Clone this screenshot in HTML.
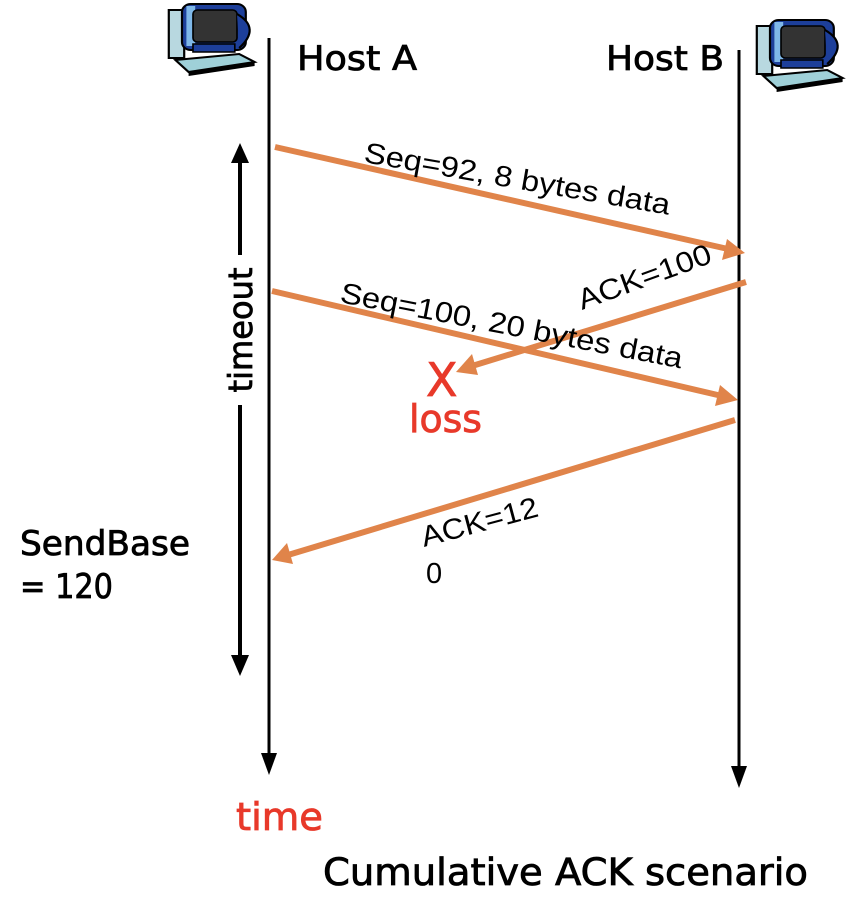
<!DOCTYPE html>
<html><head><meta charset="utf-8"><style>
html,body{margin:0;padding:0;background:#fff;}
svg{display:block;}
.h{font-family:"DejaVu Sans","Liberation Sans",sans-serif;stroke-width:0.8;}
.a{font-family:"Liberation Sans",Arial,sans-serif;}
</style></head><body>
<svg width="860" height="902" viewBox="0 0 860 902" xmlns="http://www.w3.org/2000/svg">
<defs>
<g id="pc">
  <rect x="8" y="8" width="14" height="48" fill="#b8d8e0" stroke="#000" stroke-width="2"/>
  <rect x="20" y="2" width="58" height="46" rx="8" fill="#1d3f9a" stroke="#000" stroke-width="2"/>
  <rect x="24" y="4" width="8" height="40" fill="#7fb8e8"/>
  <rect x="30" y="8" width="40" height="32" rx="4" fill="#333" stroke="#000" stroke-width="1.5"/>
  <path d="M70 12 Q92 26 72 46" fill="#1d3f9a" stroke="#000" stroke-width="2"/>
  <rect x="30" y="42" width="38" height="8" fill="#1d3f9a" stroke="#000" stroke-width="1.5"/>
  <path d="M14 58 L72 52 L86 60 L26 70 Z" fill="#9fd0d8" stroke="#000" stroke-width="2"/>
  <path d="M26 70 L86 60 L86 64 L26 74 Z" fill="#000"/>
</g>
</defs>

<use href="#pc" transform="translate(160,2) scale(1.1,1)"/>
<use href="#pc" transform="translate(748,18) scale(1.1,1)"/>

<line x1="269" y1="38" x2="269" y2="755" stroke="#000" stroke-width="3"/>
<polygon points="261,753 277,753 269,775" fill="#000"/>
<line x1="739" y1="50" x2="739" y2="768" stroke="#000" stroke-width="3"/>
<polygon points="731,766 747,766 739,788" fill="#000"/>

<line x1="240" y1="160" x2="240" y2="255" stroke="#000" stroke-width="4"/>
<polygon points="231,163 249,163 240,143" fill="#000"/>
<line x1="240" y1="405" x2="240" y2="658" stroke="#000" stroke-width="4"/>
<polygon points="231,655 249,655 240,676" fill="#000"/>
<text class="h" x="0" y="0" font-size="33" text-anchor="middle" stroke="#000" transform="translate(252,330) rotate(-90)" textLength="125" lengthAdjust="spacingAndGlyphs">timeout</text>

<g stroke="#E0844A" stroke-width="6" fill="none">
<line x1="275" y1="147" x2="728" y2="249"/>
<line x1="746" y1="282" x2="472" y2="366"/>
<line x1="272" y1="291" x2="722" y2="396"/>
<line x1="735" y1="420" x2="288" y2="555"/>
</g>
<g fill="#E0844A">
<polygon points="745,253 722,260 727,239"/>
<polygon points="456,372 472,354 478,375"/>
<polygon points="738,400 715,406 720,385"/>
<polygon points="272,560 287,543 293,564"/>
</g>

<text class="a" font-size="29" transform="translate(363,162) rotate(9.8)" textLength="310" lengthAdjust="spacingAndGlyphs">Seq=92, 8 bytes data</text>
<text class="a" font-size="29" transform="translate(339,302) rotate(11)" textLength="348" lengthAdjust="spacingAndGlyphs">Seq=100, 20 bytes data</text>
<text class="a" font-size="29" transform="translate(582,310) rotate(-20)" textLength="140" lengthAdjust="spacingAndGlyphs">ACK=100</text>
<text class="a" font-size="29" transform="translate(424,547) rotate(-15)" textLength="120" lengthAdjust="spacingAndGlyphs">ACK=12</text>
<text class="a" font-size="29" x="426" y="583">0</text>

<text class="h" font-size="46" fill="#E8392A" stroke="#E8392A" x="426" y="396">X</text>
<text class="h" font-size="38" fill="#E8392A" stroke="#E8392A" x="409" y="432" textLength="73" lengthAdjust="spacingAndGlyphs">loss</text>

<text class="h" font-size="34" stroke="#000" x="297" y="70" textLength="120" lengthAdjust="spacingAndGlyphs">Host A</text>
<text class="h" font-size="34" stroke="#000" x="606" y="70" textLength="118" lengthAdjust="spacingAndGlyphs">Host B</text>
<text class="h" font-size="34" stroke="#000" x="20" y="555" textLength="170" lengthAdjust="spacingAndGlyphs">SendBase</text>
<text class="h" font-size="34" stroke="#000" x="20" y="598" textLength="93" lengthAdjust="spacingAndGlyphs">= 120</text>
<text class="h" font-size="38" fill="#E8392A" stroke="#E8392A" x="236" y="830" textLength="87" lengthAdjust="spacingAndGlyphs">time</text>
<text class="h" font-size="37" stroke="#000" x="323" y="885" textLength="485" lengthAdjust="spacingAndGlyphs">Cumulative ACK scenario</text>
</svg>
</body></html>
